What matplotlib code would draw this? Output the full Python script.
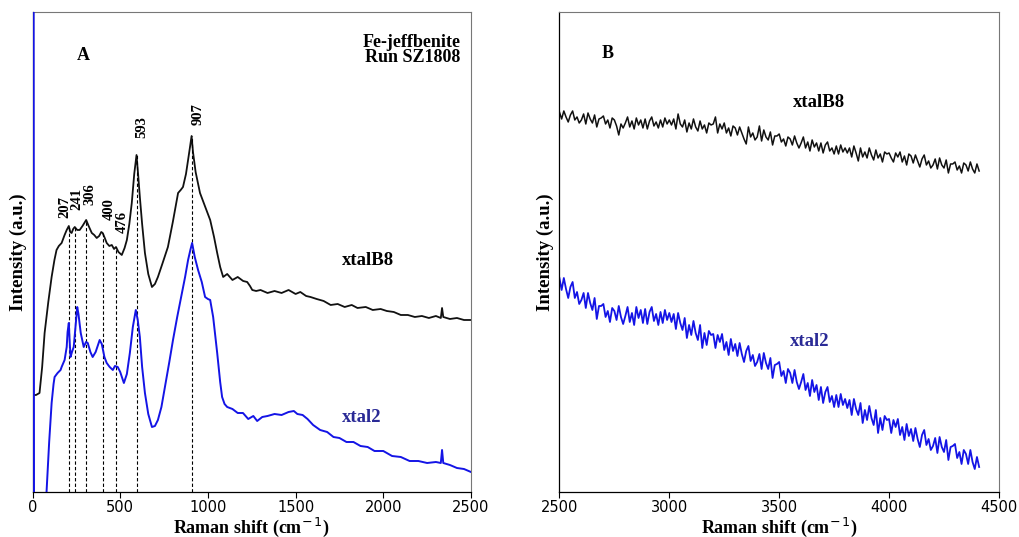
import matplotlib
matplotlib.use("Agg")
import matplotlib.pyplot as plt

# ---------------- data (arbitrary intensity units) ----------------
# Panel A : 0-2500 cm-1
xtalB8_A_x = [0, 20, 40, 55, 69, 90, 109, 125, 137, 150, 166, 183, 195, 207, 215, 223, 232, 241,
              255, 269, 285, 306, 320, 338, 352, 366, 380, 392, 400, 412, 423, 438, 452, 465, 476,
              490, 509, 525, 538, 552, 566, 580, 593, 602, 612, 625, 641, 660, 681, 698, 715, 740,
              772, 800, 830, 845, 858, 875, 887, 898, 907, 915, 930, 955, 985, 1013, 1035, 1053,
              1070, 1087, 1110, 1140, 1170, 1201, 1224, 1240, 1253, 1275, 1300, 1340, 1380, 1420,
              1460, 1500, 1527, 1560, 1585, 1620, 1660, 1700, 1740, 1780, 1820, 1853, 1900, 1940,
              1985, 2020, 2060, 2100, 2140, 2180, 2220, 2260, 2300, 2328, 2335, 2342, 2380, 2420,
              2460, 2500]
xtalB8_A_y = [97, 97, 99, 125, 159, 190, 215, 232, 242, 246, 249, 257, 262, 266, 260, 259, 263, 265,
              262, 262, 266, 272, 266, 259, 257, 254, 256, 260, 259, 254, 249, 246, 247, 243, 245,
              240, 237, 244, 252, 268, 289, 318, 337, 318, 295, 268, 239, 218, 205, 208, 215, 228,
              245, 270, 299, 302, 305, 318, 332, 345, 356, 340, 320, 299, 285, 272, 255, 239,
              225, 215, 218, 212, 215, 211, 210, 206, 202, 201, 202, 199, 201, 199,
              202, 198, 200, 196, 195, 193, 191, 187, 188, 185, 187, 184, 185, 182,
              183, 181, 180, 177, 177, 175, 176, 174, 176, 174, 184, 175, 173, 174,
              172, 172]

xtal2_A_x = [6, 9, 80, 95, 109, 120, 126, 143, 160, 166, 183, 195, 200, 207, 212, 217, 225, 235, 245,
             255, 262, 275, 292, 305, 315, 330, 343, 360, 383, 395, 410, 423, 440, 458, 470, 486,
             500, 521, 538, 555, 572, 589, 600, 612, 625, 641, 660, 681, 698, 715, 735, 755, 780,
             801, 825, 852, 870, 887, 900, 910, 925, 944, 965, 984, 1000, 1013, 1030, 1053, 1070,
             1081, 1095, 1110, 1140, 1170, 1200, 1230, 1259, 1281, 1310, 1340, 1380, 1420, 1460,
             1490, 1510, 1540, 1568, 1600, 1640, 1680, 1716, 1750, 1790, 1830, 1870, 1911, 1950,
             2000, 2050, 2100, 2150, 2200, 2250, 2300, 2328, 2335, 2342, 2380, 2420, 2460, 2500]
xtal2_A_y = [600, -100, 0, 50, 89, 108, 115, 119, 122, 125, 132, 145, 160, 169, 150, 135, 140, 145, 165,
             185, 178, 159, 145, 150, 149, 140, 135, 140, 152, 148, 135, 129, 125, 122, 126, 125,
             120, 109, 118, 139, 165, 182, 172, 155, 125, 99, 78, 65, 66, 72, 85, 105, 130,
             152, 175, 199, 215, 232, 242, 249, 235, 222, 210, 195, 193, 192, 175, 139, 110,
             95, 88, 85, 83, 79, 79, 73, 76, 71, 75, 76, 78, 77, 80,
             81, 78, 77, 73, 67, 62, 60, 55, 54, 50, 50, 46, 45, 41,
             41, 36, 35, 31, 31, 29, 30, 29, 42, 29, 27, 24, 23, 20]

# Panel B : 2500-4410 cm-1, one reading every 10 cm-1
xB_x = list(range(2500, 4411, 10))
xtalB8_B_y = [380, 373, 381, 375, 370, 377, 381, 372, 375, 369,
              372, 378, 368, 379, 373, 369, 377, 365, 373, 374,
              376, 368, 372, 364, 374, 372, 366, 357, 368, 364,
              369, 375, 365, 371, 363, 374, 367, 372, 364, 373,
              363, 371, 375, 366, 370, 364, 372, 365, 374, 368,
              372, 367, 373, 363, 378, 368, 365, 372, 360, 369,
              363, 373, 365, 361, 371, 363, 367, 359, 369, 367,
              368, 375, 359, 368, 363, 369, 359, 364, 356, 366,
              364, 357, 365, 359, 353, 348, 365, 355, 359, 352,
              355, 366, 351, 362, 355, 352, 360, 347, 356, 356,
              358, 350, 353, 346, 355, 353, 347, 356, 349, 344,
              349, 355, 344, 350, 341, 352, 345, 349, 341, 349,
              339, 347, 350, 341, 344, 338, 346, 338, 347, 340,
              344, 339, 344, 335, 346, 339, 331, 344, 335, 340,
              334, 344, 337, 332, 342, 334, 338, 330, 340, 338,
              339, 334, 330, 339, 335, 340, 330, 336, 327, 338,
              336, 329, 337, 331, 325, 333, 337, 327, 331, 324,
              327, 333, 323, 334, 327, 324, 332, 319, 328, 328,
              330, 322, 326, 319, 329, 327, 321, 330, 323, 319,
              328, 321]
xtal2_B_y = [214, 202, 214, 203, 194, 205, 210, 194, 200, 188,
             192, 199, 184, 199, 189, 182, 194, 173, 186, 186,
             188, 175, 181, 170, 184, 181, 172, 186, 175, 168,
             176, 185, 170, 179, 167, 185, 174, 182, 169, 183,
             168, 180, 185, 171, 178, 167, 180, 169, 182, 172,
             179, 170, 178, 163, 179, 169, 162, 174, 154, 167,
             157, 171, 159, 152, 167, 144, 159, 147, 161, 157,
             158, 144, 157, 150, 158, 142, 150, 137, 153, 141,
             148, 136, 149, 138, 130, 141, 146, 131, 137, 126,
             130, 138, 123, 139, 129, 123, 134, 114, 127, 128,
             130, 116, 121, 109, 123, 119, 109, 122, 110, 103,
             110, 118, 102, 109, 96, 112, 100, 107, 92, 105,
             89, 100, 105, 90, 96, 85, 97, 85, 98, 87,
             93, 84, 92, 77, 93, 83, 77, 89, 69, 82,
             72, 86, 74, 67, 82, 59, 74, 62, 76, 72,
             73, 59, 72, 65, 73, 57, 65, 52, 68, 56,
             63, 51, 64, 53, 45, 57, 62, 47, 53, 42,
             46, 54, 39, 55, 45, 40, 52, 32, 45, 46,
             48, 34, 40, 28, 42, 38, 28, 42, 30, 23,
             35, 25]

# peak annotations (panel A)
peak_pos = [207, 241, 306, 400, 476, 593, 907]
peak_top = [266, 265, 272, 259, 245, 337, 356]          # top of dashed guide (black curve)
peak_lbl_x = [183, 252, 326, 440, 509, 624, 944]
peak_lbl_y = [274, 282, 287, 272, 259, 354, 367]

ticks_A = [0, 500, 1000, 1500, 2000, 2500]
ticks_B = [2500, 3000, 3500, 4000, 4500]

# ---------------- figure ----------------
BLACK = "#111111"
BLUE = "#1414e6"
LBLUE = "#2a2a96"
SERIF = "Liberation Serif"

fig = plt.figure(figsize=(10.19, 5.37), dpi=100)
axA = fig.add_axes([0.0319, 0.0838, 0.4303, 0.8939])
axB = fig.add_axes([0.5490, 0.0838, 0.4313, 0.8939])

axA.plot(xtalB8_A_x, xtalB8_A_y, color=BLACK, lw=1.3)
axA.plot(xtal2_A_x, xtal2_A_y, color=BLUE, lw=1.4, zorder=3)
for p, t in zip(peak_pos, peak_top):
    axA.plot([p, p], [0, t], color="black", lw=0.8, ls=(0, (3, 2)))
for p, lx, ly in zip(peak_pos, peak_lbl_x, peak_lbl_y):
    axA.text(lx, ly, str(p), rotation=90, ha="center", va="bottom",
             fontsize=10.5, fontweight="bold", family=SERIF)

axB.plot(xB_x, xtalB8_B_y, color=BLACK, lw=1.1)
axB.plot(xB_x, xtal2_B_y, color=BLUE, lw=1.3)

for ax, ticks, lim in ((axA, ticks_A, (0, 2500)), (axB, ticks_B, (2500, 4500))):
    ax.set_xlim(*lim)
    ax.set_ylim(0, 480)
    ax.set_xticks(ticks)
    ax.set_yticks([])
    ax.tick_params(axis="x", labelsize=10.5, length=4, width=0.8, pad=1.5)
    ax.set_xlabel(r"Raman shift (cm$^{-\,1}$)", fontsize=13, fontweight="bold",
                  family=SERIF)
    ax.xaxis.set_label_coords(0.5, -0.049)
    ax.set_ylabel("Intensity (a.u.)", fontsize=13.5, fontweight="bold", family=SERIF)
    ax.yaxis.set_label_coords(-0.012, 0.5)
    ax.yaxis.label.set_va("bottom")
    for s in ("top", "right"):
        ax.spines[s].set_color("#777777")
        ax.spines[s].set_linewidth(0.8)
    for s in ("left", "bottom"):
        ax.spines[s].set_linewidth(0.9)

# panel texts
axA.text(290, 436, "A", fontsize=13, fontweight="bold", family=SERIF, ha="center", va="center")
axA.text(2440, 449, "Fe-jeffbenite", fontsize=13, fontweight="bold", family=SERIF,
         ha="right", va="center")
axA.text(2440, 434, "Run SZ1808", fontsize=13, fontweight="bold", family=SERIF,
         ha="right", va="center")
axA.text(1910, 231, "xtalB8", fontsize=13.5, fontweight="bold", family=SERIF,
         ha="center", va="center", color="black")
axA.text(1875, 74, "xtal2", fontsize=13.5, fontweight="bold", family=SERIF,
         ha="center", va="center", color=LBLUE)

axB.text(2720, 438, "B", fontsize=13, fontweight="bold", family=SERIF, ha="center", va="center")
axB.text(3680, 389, "xtalB8", fontsize=13.5, fontweight="bold", family=SERIF,
         ha="center", va="center", color="black")
axB.text(3640, 150, "xtal2", fontsize=13.5, fontweight="bold", family=SERIF,
         ha="center", va="center", color=LBLUE)

fig.savefig("out.png", dpi=100)
